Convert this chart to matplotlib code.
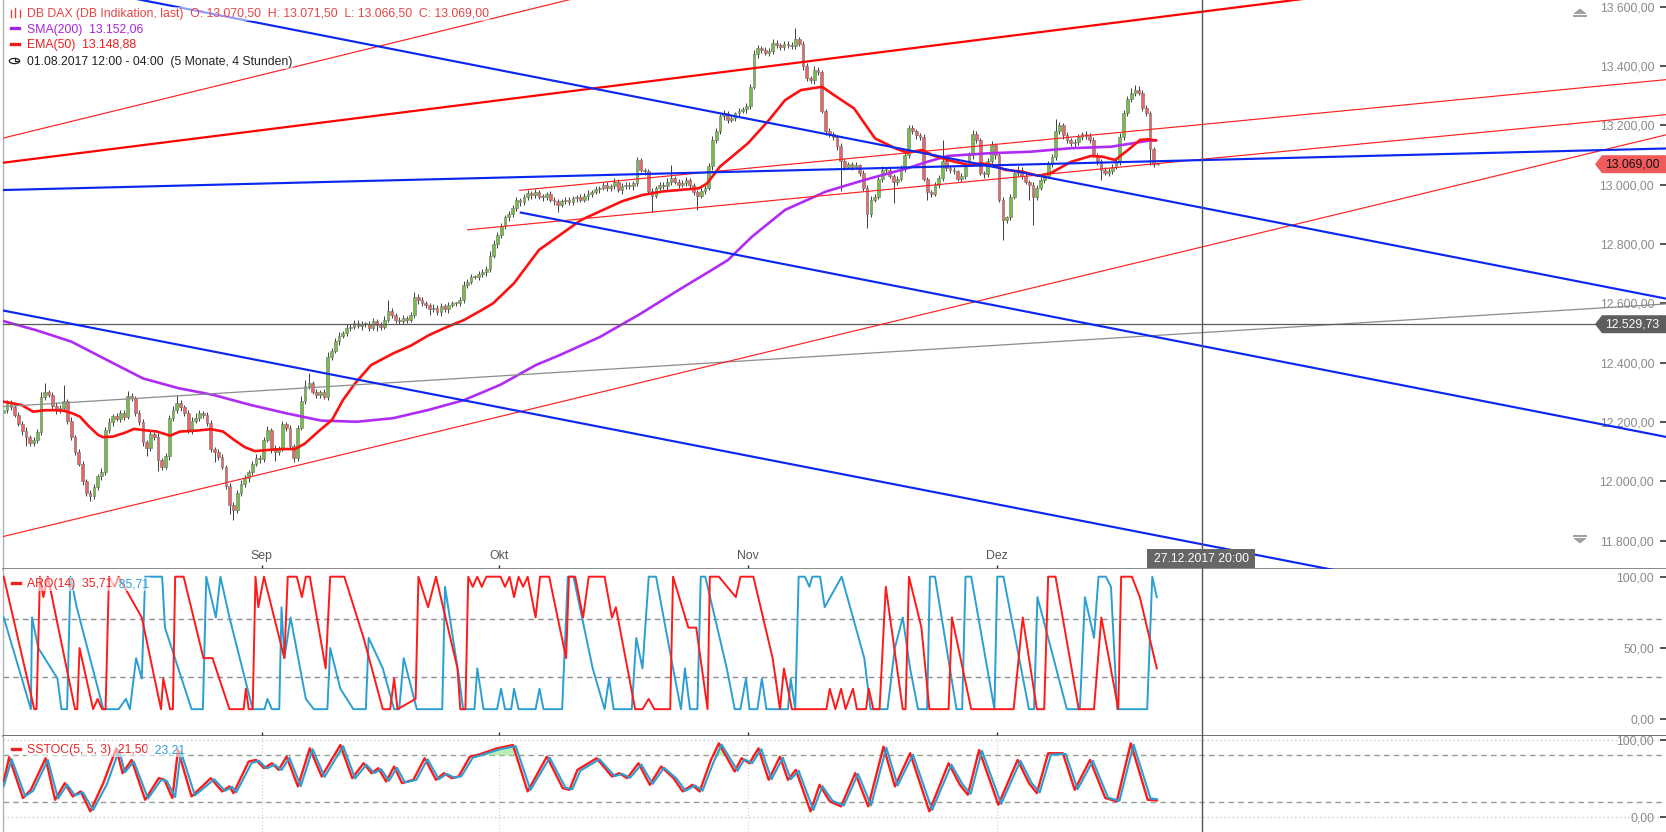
import matplotlib
matplotlib.use("Agg")
import matplotlib.pyplot as plt
from matplotlib.patches import Polygon, Rectangle, Circle
from matplotlib.lines import Line2D
import numpy as np

plt.rcParams['font.family'] = ['Liberation Sans', 'DejaVu Sans']

# ---------------- DATA ----------------
# 4-hour candles, 3 per trading day, x unit = trading days since 01.08.2017
first_open = 12230
close_days = [
    [12240, 12265, 12250], [12225, 12195, 12170], [12150, 12128, 12140], [12165, 12285, 12300],
    [12292, 12255, 12240], [12248, 12270, 12205], [12150, 12100, 12060], [12000, 11960, 11950],
    [11980, 12018, 12030], [12172, 12200, 12220], [12210, 12232, 12218], [12288, 12280, 12232],
    [12200, 12132, 12112], [12160, 12150, 12072], [12050, 12085, 12212], [12240, 12265, 12250],
    [12232, 12172, 12205], [12212, 12230, 12225], [12198, 12110, 12100], [12082, 12050, 11985],
    [11920, 11905, 11960], [11990, 12010, 12030], [12060, 12080, 12075], [12140, 12172, 12112],
    [12100, 12110, 12192], [12180, 12120, 12080], [12180, 12272, 12322], [12330, 12302, 12292],
    [12300, 12285, 12420], [12440, 12472, 12490], [12500, 12518, 12522], [12535, 12525, 12530],
    [12530, 12518, 12540], [12528, 12520, 12545], [12575, 12560, 12545], [12540, 12552, 12545],
    [12562, 12622, 12610], [12600, 12595, 12580], [12585, 12570, 12590], [12580, 12595, 12600],
    [12600, 12612, 12662], [12672, 12690, 12688], [12700, 12705, 12715], [12760, 12800, 12830],
    [12860, 12890, 12900], [12920, 12950, 12940], [12960, 12972, 12965], [12975, 12960, 12958],
    [12970, 12950, 12945], [12932, 12945, 12950], [12940, 12955, 12960], [12950, 12962, 12970],
    [12975, 12985, 12990], [13000, 12990, 12995], [13010, 12982, 12995], [13000, 12995, 13005],
    [13082, 13050, 13045], [12980, 12962, 12990], [13000, 12995, 13010], [13022, 13010, 13000],
    [13005, 13015, 13000], [12975, 12962, 12980], [12990, 13062, 13150], [13180, 13230, 13240],
    [13218, 13225, 13240], [13250, 13255, 13265], [13330, 13440, 13460], [13455, 13445, 13450],
    [13478, 13470, 13465], [13475, 13470, 13468], [13490, 13475, 13400], [13360, 13352, 13385],
    [13380, 13250, 13180], [13170, 13160, 13130], [13080, 13060, 13070], [13060, 13065, 13040],
    [12990, 12900, 12950], [12960, 13020, 13050], [13050, 13030, 13010], [13020, 13056, 13100],
    [13190, 13180, 13167], [13160, 13020, 12975], [12970, 13000, 13022], [13080, 13055, 13050],
    [13045, 13020, 13030], [13070, 13100, 13170], [13150, 13040, 13035], [13080, 13134, 13100],
    [12950, 12880, 12890], [12960, 13040, 13050], [13030, 13010, 13000], [12960, 12990, 13015],
    [13030, 13070, 13092], [13180, 13200, 13167], [13150, 13140, 13145], [13160, 13170, 13165],
    [13150, 13100, 13080], [13050, 13040, 13045], [13060, 13080, 13160], [13240, 13290, 13310],
    [13320, 13310, 13260], [13240, 13120, 13070], [13069],
]
upper_wick_days = [
    [20, 10, 8], [6, 10, 8], [12, 8, 10], [10, 15, 30], [8, 10, 12], [10, 55, 8], [12, 8, 10],
    [10, 8, 12], [10, 8, 15], [10, 15, 8], [12, 8, 10], [15, 10, 8], [8, 10, 6], [10, 8, 12],
    [8, 10, 12], [15, 25, 10], [8, 10, 12], [20, 10, 8], [10, 8, 6], [8, 10, 6], [8, 10, 12],
    [15, 10, 8], [10, 12, 8], [10, 15, 8], [10, 8, 12], [8, 10, 6], [10, 15, 20], [35, 10, 8],
    [8, 10, 15], [8, 10, 12], [8, 12, 10], [10, 8, 12], [8, 10, 12], [8, 10, 12], [35, 10, 8],
    [8, 10, 6], [10, 15, 8], [10, 8, 6], [12, 8, 10], [8, 10, 8], [6, 10, 12], [10, 8, 6],
    [8, 10, 12], [15, 12, 10], [10, 8, 12], [10, 8, 6], [8, 10, 6], [12, 8, 10], [6, 8, 10],
    [8, 6, 10], [10, 8, 6], [8, 10, 12], [8, 10, 6], [10, 8, 6], [12, 8, 10], [8, 10, 8],
    [10, 8, 6], [8, 10, 6], [8, 10, 12], [45, 8, 10], [10, 12, 8], [6, 8, 10], [8, 12, 15],
    [10, 8, 12], [8, 10, 6], [10, 8, 12], [10, 15, 10], [8, 10, 12], [12, 10, 8], [8, 10, 12],
    [37, 8, 10], [10, 8, 15], [10, 8, 6], [10, 8, 6], [12, 10, 8], [8, 10, 6], [8, 10, 12],
    [8, 10, 12], [10, 8, 6], [8, 10, 12], [12, 10, 8], [8, 10, 6], [8, 10, 12], [70, 10, 8],
    [8, 6, 10], [8, 10, 14], [10, 8, 6], [10, 12, 8], [8, 10, 6], [8, 10, 12], [10, 8, 6],
    [8, 10, 12], [8, 10, 12], [40, 10, 8], [12, 8, 10], [10, 8, 12], [8, 10, 6], [8, 10, 12],
    [10, 8, 15], [12, 10, 15], [15, 12, 8], [10, 8, 6], [2],
]
lower_wick_days = [
    [30, 8, 10], [8, 10, 12], [30, 10, 8], [10, 8, 12], [8, 10, 12], [10, 8, 12], [10, 12, 8],
    [12, 10, 15], [8, 10, 12], [10, 8, 12], [8, 10, 12], [8, 10, 12], [10, 12, 27], [8, 10, 37],
    [10, 8, 12], [8, 10, 12], [10, 8, 12], [8, 10, 12], [10, 12, 35], [10, 8, 12], [30, 35, 12],
    [10, 8, 12], [10, 8, 12], [10, 8, 15], [30, 10, 8], [10, 8, 15], [10, 8, 12], [10, 8, 12],
    [10, 8, 12], [10, 8, 12], [8, 10, 12], [10, 8, 15], [10, 12, 8], [20, 10, 8], [8, 10, 12],
    [10, 8, 12], [8, 10, 12], [10, 12, 20], [10, 8, 12], [10, 12, 8], [8, 10, 12], [10, 8, 6],
    [8, 10, 12], [10, 8, 12], [10, 8, 12], [8, 10, 12], [8, 10, 12], [10, 8, 12], [8, 10, 12],
    [25, 8, 10], [10, 8, 12], [8, 10, 12], [10, 8, 12], [8, 10, 12], [10, 8, 12], [8, 10, 12],
    [10, 8, 12], [10, 53, 8], [8, 10, 12], [10, 8, 12], [8, 10, 12], [10, 47, 8], [10, 8, 12],
    [10, 8, 12], [10, 8, 12], [10, 8, 12], [10, 8, 12], [10, 8, 12], [10, 8, 12], [10, 8, 12],
    [10, 8, 12], [10, 8, 12], [10, 8, 12], [10, 8, 12], [100, 10, 8], [10, 8, 12], [10, 45, 8],
    [10, 8, 12], [10, 8, 72], [10, 8, 12], [10, 8, 12], [10, 8, 25], [10, 8, 12], [10, 8, 12],
    [10, 8, 12], [10, 8, 12], [10, 8, 12], [10, 8, 12], [10, 67, 8], [10, 8, 12], [10, 8, 50],
    [96, 10, 8], [10, 8, 12], [10, 8, 12], [10, 8, 12], [10, 8, 12], [10, 8, 12], [35, 8, 12],
    [10, 8, 12], [10, 8, 12], [10, 8, 12], [10, 55, 10], [3],
]

ema_t = [0.14, 0.75, 1.8, 2.8, 3.85, 4.73, 5.53, 6.23, 6.94, 7.74, 8.53, 8.97, 9.86, 10.92, 11.71,
         12.51, 13.75, 14.9, 15.78, 17.19, 18.52, 19.58, 20.55, 21.52, 22.41, 23.56, 24.79, 25.94,
         26.83, 28.15, 29.21, 30.18, 31.24, 32.66, 34.6, 36.2, 37.78, 39.29, 40.88, 42.47, 43.44,
         45.3, 47.5, 51.22, 54.84, 56.61, 58.38, 61.65, 62.35, 63.5, 64.92, 65.98, 67.83, 69.25,
         70.66, 72.52, 73.58, 75.35, 77.2, 78.97, 80.03, 81.36, 82.24, 83.65, 85.51, 86.57, 87.63,
         88.69, 90.19, 91.61, 92.67, 94.52, 96.3, 97.35, 98.41, 99.56, 100.62, 101.33, 102.04]
ema_v = [12269, 12265, 12257, 12235, 12240, 12240, 12238, 12230, 12218, 12185, 12157, 12149, 12151,
         12164, 12177, 12173, 12168, 12154, 12168, 12171, 12176, 12168, 12140, 12115, 12102, 12106,
         12109, 12109, 12128, 12173, 12207, 12274, 12330, 12392, 12431, 12458, 12493, 12519, 12544,
         12578, 12600, 12668, 12780, 12881, 12944, 12965, 12977, 12988, 13004, 13061, 13106, 13140,
         13218, 13285, 13319, 13330, 13302, 13257, 13156, 13123, 13108, 13117, 13100, 13083, 13066,
         13072, 13066, 13050, 13044, 13030, 13038, 13077, 13097, 13094, 13083, 13117, 13151, 13153,
         13149]

sma_t = [0.19, 3.03, 6.18, 9.33, 12.51, 15.66, 18.78, 21.97, 25.12, 28.24, 31.42, 34.6, 37.75,
         40.88, 44.06, 47.22, 49.36, 52.9, 56.43, 59.97, 62.62, 64.2, 66.33, 69.25, 72.87, 76.45,
         80.03, 81.89, 83.65, 87.28, 90.9, 94.52, 98.06, 99.56, 101.33, 102.04]
sma_v = [12540, 12510, 12471, 12409, 12347, 12314, 12291, 12258, 12230, 12205, 12201, 12213, 12241,
         12274, 12325, 12392, 12426, 12487, 12564, 12648, 12709, 12746, 12825, 12915, 12977, 13018,
         13055, 13078, 13097, 13106, 13111, 13123, 13128, 13137, 13148, 13150]

# drawn trend lines: (start day, end day), (start price, end price)
red_thick_t, red_thick_p = [0.14, 147.1], [13074, 13780]
red_thin_top_t, red_thin_top_p = [0.14, 60.0], [13157, 13715]
red_thin_a_t, red_thin_a_p = [45.8, 147.1], [12981, 13354]
red_thin_b_t, red_thin_b_p = [41.2, 147.1], [12848, 13236]
red_thin_c_t, red_thin_c_p = [0.14, 147.1], [11814, 13168]
blue_1_t, blue_1_p = [0.14, 147.1], [13714, 12616]
blue_2_t, blue_2_p = [0.14, 147.1], [12982, 13122]
blue_3_t, blue_3_p = [0.14, 147.1], [12576, 11483]
blue_4_t, blue_4_p = [45.9, 147.1], [12906, 12150]
gray_t, gray_p = [0.14, 147.1], [12252, 12598]
level_price = 12529.73
last_price = 13069.00
cursor_day = 106.1
cursor_label = "27.12.2017 20:00"

month_days = [23, 44, 66, 88]
month_labels = ["Sep", "Okt", "Nov", "Dez"]
price_ticks = [11800, 12000, 12200, 12400, 12600, 12800, 13000, 13200, 13400, 13600]

aro_up_t = [0.2, 2.9, 3.1, 3.4, 3.7, 4.1, 6.5, 6.7, 6.9, 8.1, 8.5, 8.9, 9.2, 9.5, 10.0, 10.35, 12.4,
            14.1, 14.3, 14.9, 15.15, 15.35, 16.1, 17.85, 18.65, 20.15, 21.4, 21.6, 21.85, 22.2, 22.45,
            22.7, 23.2, 25.0, 25.3, 26.1, 26.55, 26.9, 27.25, 28.65, 29.05, 30.3, 32.0, 33.7, 34.35,
            34.7, 35.0, 36.6, 36.85, 37.7, 38.4, 40.3, 40.55, 41.0, 41.25, 41.65, 42.05, 42.45, 42.85,
            44.1, 44.5, 44.9, 45.3, 45.7, 46.1, 46.5, 47.2, 47.6, 48.4, 49.9, 50.15, 50.7, 51.4, 51.9,
            53.3, 53.95, 54.3, 56.0, 56.65, 57.2, 57.7, 59.1, 59.35, 60.7, 61.4, 62.4, 62.6, 63.4,
            64.9, 65.3, 66.45, 68.15, 68.8, 69.15, 69.85, 72.9, 73.2, 73.7, 74.2, 74.6, 75.25, 75.6,
            76.4, 76.65, 77.05, 77.6, 78.15, 79.65, 79.9, 80.2, 81.3, 82.0, 83.7, 84.0, 85.7, 87.75,
            89.45, 90.25, 91.5, 92.15, 92.5, 93.15, 95.2, 96.55, 97.2, 98.7, 98.95, 99.9, 100.6, 102.1]
aro_up_v = [100, 7.1, 7.1, 100, 85.7, 100, 7.1, 7.1, 50, 7.1, 14.3, 7.1, 7.1, 100, 92.9, 100, 71.4,
            7.1, 28.6, 7.1, 7.1, 100, 100, 42.9, 42.9, 7.1, 7.1, 21.4, 7.1, 7.1, 100,
            78.6, 100, 42.9, 100, 100, 85.7, 100, 100, 35.7, 100, 100, 57.1, 7.1, 7.1,
            28.6, 7.1, 14.3, 100, 78.6, 100, 35.7, 7.1, 7.1, 100, 92.9, 100, 92.9, 100,
            100, 92.9, 100, 85.7, 100, 92.9, 100, 71.4, 100, 100, 42.9, 100, 100, 71.4, 100,
            100, 71.4, 78.6, 7.1, 7.1, 14.3, 7.1, 7.1, 100, 64.3, 64.3, 7.1, 100, 100,
            85.7, 100, 100, 42.9, 7.1, 35.7, 7.1, 7.1, 21.4, 7.1, 21.4, 7.1, 21.4, 7.1,
            7.1, 21.4, 7.1, 7.1, 92.9, 7.1, 7.1, 100, 64.3, 7.1, 7.1, 71.4, 7.1, 7.1,
            7.1, 71.4, 7.1, 7.1, 100, 100, 7.1, 7.1, 71.4, 7.1, 100, 100, 85.7, 35.71]

aro_dn_t = [0.2, 2.6, 2.7, 3.25, 4.95, 5.3, 5.8, 6.1, 6.65, 9.0, 10.35, 11.0, 11.35, 11.9, 12.4, 12.7,
            14.2, 14.45, 16.8, 17.8, 18.1, 18.95, 19.35, 20.15, 22.2, 23.25, 23.5, 23.9, 24.55, 24.75,
            25.0, 25.55, 26.9, 27.6, 28.8, 29.05, 29.95, 31.1, 32.2, 32.45, 33.7, 34.7, 35.15, 35.55,
            36.7, 38.95, 39.2, 40.45, 40.8, 41.8, 42.05, 42.6, 43.8, 44.15, 44.5, 45.05, 45.3, 45.7,
            47.2, 47.55, 47.9, 49.55, 50.05, 50.55, 52.25, 53.3, 53.7, 54.1, 55.7, 56.1, 56.65, 57.2,
            57.85, 59.35, 60.05, 60.4, 60.85, 61.5, 61.8, 62.2, 64.1, 64.8, 65.3, 65.8, 66.1, 66.8,
            67.2, 67.6, 69.5, 69.75, 70.15, 70.45, 71.0, 71.4, 71.65, 72.35, 72.75, 74.25, 76.25,
            76.8, 78.3, 78.95, 79.65, 80.3, 81.0, 81.8, 82.05, 82.5, 84.4, 84.9, 85.2, 85.7, 87.75,
            88.0, 88.55, 90.8, 91.25, 91.55, 92.5, 94.15, 95.3, 95.75, 96.55, 96.95, 97.6, 98.05,
            98.6, 101.25, 101.7, 102.1]
aro_dn_v = [71.4, 7.1, 71.4, 50, 28.6, 7.1, 7.1, 100, 78.6, 7.1, 7.1, 14.3, 7.1, 42.9, 28.6, 100,
            100, 64.3, 7.1, 7.1, 100, 71.4, 100, 71.4, 7.1, 7.1, 14.3, 7.1, 7.1, 78.6,
            42.9, 71.4, 14.3, 7.1, 7.1, 50, 21.4, 7.1, 7.1, 57.1, 35.7, 7.1, 7.1, 42.9,
            7.1, 7.1, 92.9, 28.6, 7.1, 7.1, 35.7, 7.1, 7.1, 21.4, 7.1, 7.1, 21.4, 7.1,
            7.1, 21.4, 7.1, 7.1, 100, 100, 35.7, 7.1, 28.6, 7.1, 7.1, 57.1, 35.7, 100,
            100, 35.7, 7.1, 35.7, 7.1, 7.1, 100, 100, 35.7, 7.1, 7.1, 28.6, 7.1, 7.1,
            28.6, 7.1, 7.1, 28.6, 7.1, 100, 100, 92.9, 100, 100, 78.6, 100, 42.9,
            7.1, 7.1, 50, 71.4, 35.7, 7.1, 7.1, 100, 100, 7.1, 7.1, 100, 100, 7.1,
            100, 100, 7.1, 7.1, 85.7, 57.1, 7.1, 7.1, 85.7, 57.1, 100, 100, 92.9,
            7.1, 7.1, 100, 85.71]

sstoc_k_t = [0.2, 0.68, 1.9, 2.6, 3.9, 4.74, 5.6, 6.3, 7.0, 7.85, 9.0, 10.15, 10.7, 11.5, 12.7, 13.9,
             14.4, 15.1, 15.6, 16.8, 18.5, 19.5, 20.15, 20.5, 21.85, 22.5, 23.2, 23.9, 24.5, 25.2,
             26.2, 27.25, 28.3, 29.95, 31.0, 32.0, 32.7, 33.3, 34.0, 34.7, 35.4, 36.4, 37.4, 38.4,
             39.1, 39.8, 40.4, 41.4, 42.1, 43.8, 45.2, 46.5, 48.2, 49.6, 50.2, 50.9, 52.6, 53.95,
             54.6, 55.3, 56.3, 57.3, 58.3, 59.4, 60.2, 61.05, 61.7, 62.7, 63.4, 64.8, 65.4, 66.1,
             66.9, 67.8, 68.8, 69.5, 70.2, 71.5, 72.3, 73.2, 74.2, 75.45, 76.6, 77.95, 78.96, 80.3,
             82.0, 83.7, 84.7, 85.4, 86.4, 88.1, 89.8, 90.8, 91.5, 92.5, 93.8, 94.85, 96.2, 97.55,
             98.57, 99.8, 101.3, 102.1]
sstoc_k_v = [46, 77.6, 24.6, 35.3, 76.3, 22.4, 44, 26.7, 33.2, 7.3, 44, 89.2, 56.9, 74.1, 22.4, 50.4,
             48.3, 24.6, 87.1, 26.7, 50.4, 33.2, 39.7, 31, 72, 74.1, 63.4, 69.8, 61.2, 78.4,
             39.7, 89.2, 52.6, 93.5, 50.4, 69.8, 56.9, 63.4, 46.1, 65.5, 44, 48.3, 76.3, 48.3,
             56.9, 50.4, 52.6, 78.4, 80.6, 89.2, 93.5, 33.2, 78.4, 37.5, 35.3, 61.2, 76.3, 52.6,
             56.9, 50.4, 69.8, 41.8, 65.5, 50.4, 33.2, 41.8, 33.2, 74.1, 95.7, 59.1, 76.3, 69.8,
             89.2, 48.3, 78.4, 48.3, 61.2, 7.3, 41.8, 20.3, 13.8, 56.9, 13.8, 91.4, 39.7, 82.8,
             7.3, 69.8, 41.8, 28.9, 87.1, 15.9, 74.1, 44, 31, 82.8, 82.8, 35.3, 74.1, 24.6,
             20.3, 95.7, 22.4, 21.5]
sstoc_d_t = [0.2, 0.9, 2.1, 2.8, 4.1, 5.0, 5.8, 6.5, 7.2, 8.1, 9.3, 10.4, 10.9, 11.7, 12.95, 14.1,
             14.6, 15.35, 15.85, 17.1, 18.8, 19.75, 20.4, 20.75, 22.1, 22.75, 23.45, 24.15, 24.75,
             25.45, 26.45, 27.5, 28.55, 30.2, 31.25, 32.25, 32.95, 33.55, 34.25, 34.95, 35.65, 36.65,
             37.65, 38.65, 39.35, 40.05, 40.65, 41.65, 42.35, 44.05, 45.45, 46.75, 48.45, 49.85,
             50.45, 51.15, 52.85, 54.2, 54.85, 55.55, 56.55, 57.55, 58.55, 59.65, 60.45, 61.3, 61.95,
             62.95, 63.65, 65.05, 65.65, 66.35, 67.15, 68.05, 69.05, 69.75, 70.45, 71.75, 72.55,
             73.45, 74.45, 75.7, 76.85, 78.2, 79.2, 80.55, 82.25, 83.95, 84.95, 85.65, 86.65, 88.35,
             90.05, 91.05, 91.75, 92.75, 94.05, 95.1, 96.45, 97.8, 98.8, 100.05, 101.55, 102.1]
sstoc_d_v = [40, 75, 27, 34, 74, 24, 42, 28, 32, 9, 42, 87, 58, 72, 24, 48, 47, 26, 85, 28, 49, 34,
             39, 32, 70, 73, 63, 68, 61, 77, 40, 88, 52, 92, 50, 68, 57, 62, 47, 64, 45, 48, 75, 49,
             56, 51, 53, 77, 80, 88, 92, 35, 77, 38, 36, 60, 75, 53, 56, 51, 68, 43, 64, 50, 34, 41,
             34, 72, 94, 60, 75, 70, 88, 49, 77, 49, 60, 9, 40, 21, 15, 56, 15, 90, 41, 81, 9, 68,
             42, 30, 86, 17, 73, 44, 32, 81, 82, 36, 73, 25, 21, 94, 24, 23.21]

# ---------------- FIGURE ----------------
W, H = 1666, 832
fig = plt.figure(figsize=(W / 100, H / 100), dpi=100)


def fx(px):
    return px / W


def fy(py):
    return 1 - py / H


XL = (0.136, 147.1)
ax = fig.add_axes([fx(3), fy(569), fx(1663), 569 / H])
ax2 = fig.add_axes([fx(3), fy(735.5), fx(1663), (735.5 - 569) / H])
ax3 = fig.add_axes([fx(3), 0, fx(1663), (832 - 735.5) / H])


def de(v):
    s = f"{v:,.2f}"
    return s.replace(",", "X").replace(".", ",").replace("X", ".")


LABEL_COLOR = '#8a8a8a'
FS = 8.8
BASE = 4.3  # px from visual text centre down to baseline
HALO = dict(facecolor='white', alpha=0.55, edgecolor='none', pad=0.6)

for a in (ax, ax2, ax3):
    a.set_xlim(*XL)
    a.set_facecolor('white')
    a.spines['top'].set_visible(False)
    a.spines['right'].set_visible(False)
    a.spines['left'].set_color('#b4b4b4')
    a.spines['left'].set_linewidth(1.0)
    a.yaxis.tick_right()
    a.tick_params(axis='y', direction='in', length=4, width=1.1, color='#222222', pad=-8.5,
                  labelsize=FS, labelcolor=LABEL_COLOR, right=True, left=False)

# ---- candles ----
closes = [c for day in close_days for c in day]
up_w = [w for day in upper_wick_days for w in day]
dn_w = [w for day in lower_wick_days for w in day]
n = len(closes)
t = np.arange(n) / 3.0 + 1.0 / 6.0
opens = [first_open] + closes[:-1]
o = np.array(opens, float)
c = np.array(closes, float)
hi = np.maximum(o, c) + np.array(up_w)
lo = np.minimum(o, c) - np.array(dn_w)
body_lo = np.minimum(o, c)
body_h = np.maximum(np.abs(c - o), 3)
colors = ['#74c046' if cc >= oo else '#ef6464' for oo, cc in zip(o, c)]
ax.vlines(t, lo, hi, color='#3c3c3c', lw=0.7, zorder=2)
ax.bar(t, body_h, bottom=body_lo, width=0.24, color=colors, edgecolor='#6e6e6e',
       linewidth=0.4, zorder=2.1)

# ---- indicators ----
ax.plot(sma_t, sma_v, color='#b02cf5', lw=1.9, zorder=3, solid_capstyle='round')
ax.plot(ema_t, ema_v, color='#ff1010', lw=1.9, zorder=3.1, solid_capstyle='round')

# ---- trend lines ----
ax.plot(gray_t, gray_p, color='#8c8c8c', lw=0.9, zorder=3.5)
ax.axhline(level_price, color='#5a5a5a', lw=0.9, zorder=3.5)
for tt, pp in [(red_thin_top_t, red_thin_top_p), (red_thin_a_t, red_thin_a_p),
               (red_thin_b_t, red_thin_b_p), (red_thin_c_t, red_thin_c_p)]:
    ax.plot(tt, pp, color='#ff2020', lw=0.85, zorder=3.6)
ax.plot(red_thick_t, red_thick_p, color='#ff0000', lw=1.6, zorder=3.7)
for tt, pp in [(blue_1_t, blue_1_p), (blue_2_t, blue_2_p), (blue_3_t, blue_3_p), (blue_4_t, blue_4_p)]:
    ax.plot(tt, pp, color='#0a28f0', lw=1.55, zorder=3.8)

ax.set_ylim(11704.7, 13622.5)
ax.set_yticks(price_ticks)
ax.set_yticklabels([de(v) for v in price_ticks])
ax.set_xticks(month_days)
ax.set_xticklabels(month_labels)
ax.tick_params(axis='x', direction='in', length=3, width=1, color='#333333', pad=-14,
               labelsize=FS, labelcolor='#555555')
ax.spines['bottom'].set_color('#6a6a6a')
ax.spines['bottom'].set_linewidth(1.1)
for lbl in ax.get_yticklabels():
    lbl.set_horizontalalignment('right')

# price tags (x in axes fraction, y in price)
tr = ax.get_yaxis_transform()
half = 9 / 0.2967
xa_tip, xa_body = (1595 - 3) / 1663, (1602 - 3) / 1663
for price, fc, tc, txt in [(last_price, '#f05a5a', '#111111', de(last_price)),
                           (level_price, '#5e5e5e', '#ffffff', de(level_price))]:
    poly = Polygon([(xa_tip, price), (xa_body, price + half), (1.0, price + half),
                    (1.0, price - half), (xa_body, price - half)], closed=True,
                   transform=tr, facecolor=fc, edgecolor='none', zorder=6, clip_on=False)
    ax.add_patch(poly)
    ax.text((xa_body + 1.0) / 2 - 0.001, price, txt, transform=tr, ha='center', va='center',
            color=tc, fontsize=FS, zorder=7)

# crosshair + date label
for a in (ax, ax2, ax3):
    a.axvline(cursor_day, color='#555555', lw=1.0, zorder=5)
xt = ax.get_xaxis_transform()
box_w = 108 / 11.315
ax.add_patch(Rectangle((cursor_day - box_w / 2 - 0.05, 0.0015), box_w, 19.5 / 569, transform=xt,
                       facecolor='#666666', edgecolor='none', zorder=6))
ax.text(cursor_day - 0.05, 9.6 / 569, cursor_label, transform=xt, ha='center', va='center',
        color='white', fontsize=FS, zorder=7)

# up/down scroll icons
icon_c = '#a0a0a0'
fig.add_artist(Polygon([(fx(1573), fy(14)), (fx(1587), fy(14)), (fx(1580), fy(8.5))],
                       closed=True, transform=fig.transFigure, facecolor=icon_c, edgecolor='none'))
fig.add_artist(Rectangle((fx(1573), fy(16.5)), fx(14), 1.5 / H, transform=fig.transFigure,
                         facecolor=icon_c, edgecolor='none'))
fig.add_artist(Rectangle((fx(1573), fy(536.5)), fx(14), 1.5 / H, transform=fig.transFigure,
                         facecolor=icon_c, edgecolor='none'))
fig.add_artist(Polygon([(fx(1573), fy(538)), (fx(1587), fy(538)), (fx(1580), fy(543.5))],
                       closed=True, transform=fig.transFigure, facecolor=icon_c, edgecolor='none'))

# ---- legend (top-left) ----
tx = fx(26.7)
fig.text(tx, fy(12.7 + BASE), "DB DAX (DB Indikation, last)  O: 13.070,50  H: 13.071,50  L: 13.066,50  C: 13.069,00",
         color='#e84444', fontsize=FS, va='baseline', bbox=HALO)
fig.text(tx, fy(28.3 + BASE), "SMA(200)  13.152,06", color='#a524e0', fontsize=FS, va='baseline', bbox=HALO)
fig.text(tx, fy(44 + BASE), "EMA(50)  13.148,88", color='#ee1c1c', fontsize=FS, va='baseline', bbox=HALO)
fig.text(tx, fy(61 + BASE), "01.08.2017 12:00 - 04:00  (5 Monate, 4 Stunden)", color='#222222',
         fontsize=FS, va='baseline', bbox=HALO)
for xx, y0, y1 in [(11, 10, 17), (15.5, 8, 17), (20, 10, 17)]:
    fig.add_artist(Line2D([fx(xx), fx(xx)], [fy(y0), fy(y1)], color='#e84444', lw=1.0,
                          transform=fig.transFigure))
fig.add_artist(Line2D([fx(11), fx(19)], [fy(28.3), fy(28.3)], color='#a524e0', lw=2.4,
                      transform=fig.transFigure))
fig.add_artist(Line2D([fx(11), fx(19)], [fy(44), fy(44)], color='#ee1c1c', lw=2.4,
                      transform=fig.transFigure))
fig.add_artist(Circle((fx(14.5), fy(61)), 5.2 / W, transform=fig.transFigure, fill=False,
                      edgecolor='#222222', lw=0.9))
fig.add_artist(Line2D([fx(14.5), fx(14.5), fx(17.5)], [fy(57.5), fy(61), fy(61)],
                      color='#222222', lw=0.9, transform=fig.transFigure))

# ---- ARO panel ----
ax2.plot(aro_dn_t, aro_dn_v, color='#2c9fd2', lw=1.4, zorder=3)
ax2.plot(aro_up_t, aro_up_v, color='#ff1a1a', lw=1.4, zorder=3.1)
for lvl in (70, 30):
    ax2.axhline(lvl, color='#8e8e8e', lw=1.0, dashes=(4, 3), zorder=2)
ax2.set_ylim(-11.36, 105.4)
ax2.set_yticks([0, 50, 100])
ax2.set_yticklabels([de(v) for v in (0, 50, 100)])
for lbl in ax2.get_yticklabels():
    lbl.set_horizontalalignment('right')
ax2.set_xticks(month_days)
ax2.tick_params(axis='x', direction='in', length=3, width=1, color='#333333', labelbottom=False)
ax2.spines['bottom'].set_color('#5a5a5a')
ax2.spines['bottom'].set_linewidth(1.2)

# ---- SSTOC panel ----
ax3.set_ylim(-19.5, 105.84)
for lvl in (100, 0):
    ax3.axhline(lvl, color='#c4cad8', lw=1.0, ls=(0, (1, 2)), zorder=1)
for lvl in (80, 20):
    ax3.axhline(lvl, color='#8fa08f', lw=1.0, dashes=(4, 3), zorder=1.5)
for md in month_days:
    ax3.axvline(md, color='#dccadc', lw=0.8, ls=(0, (1, 2)), zorder=1)
k_t = np.array(sstoc_k_t)
k_v = np.array(sstoc_k_v)
ax3.fill_between(k_t, 80, k_v, where=k_v > 80, interpolate=True, color='#9ee69a', alpha=0.7,
                 lw=0, zorder=2)
ax3.plot(sstoc_k_t, sstoc_k_v, color='#ff1a1a', lw=1.7, zorder=3)
ax3.plot(sstoc_d_t, sstoc_d_v, color='#2c9fd2', lw=1.5, zorder=3.1)
ax3.set_yticks([0, 100])
ax3.set_yticklabels([de(v) for v in (0, 100)])
for lbl in ax3.get_yticklabels():
    lbl.set_horizontalalignment('right')
ax3.set_xticks([])
ax3.spines['bottom'].set_visible(False)

# two-colour legend lines for the indicator panels (same baseline)
t_aro = fig.text(tx, fy(583 + BASE), "ARO(14)  35,71", color='#ee2222', fontsize=FS,
                 va='baseline', zorder=8, bbox=HALO)
t_st = fig.text(tx, fy(749 + BASE), "SSTOC(5, 5, 3)  21,50", color='#ee2222', fontsize=FS,
                va='baseline', zorder=8, bbox=HALO)
fig.canvas.draw()
rend = fig.canvas.get_renderer()
for tobj, extra, yy in [(t_aro, "  85,71", 583), (t_st, "  23,21", 749)]:
    bb = tobj.get_window_extent(rend)
    fig.text(bb.x1 / W, fy(yy + BASE), extra, color='#2c9fd2', fontsize=FS, va='baseline',
             zorder=8, bbox=HALO)
for yy in (583, 749):
    fig.add_artist(Line2D([fx(12), fx(20)], [fy(yy), fy(yy)], color='#ee2222', lw=2.4,
                          transform=fig.transFigure, zorder=9))

fig.savefig("out.png", dpi=100, facecolor='white')
